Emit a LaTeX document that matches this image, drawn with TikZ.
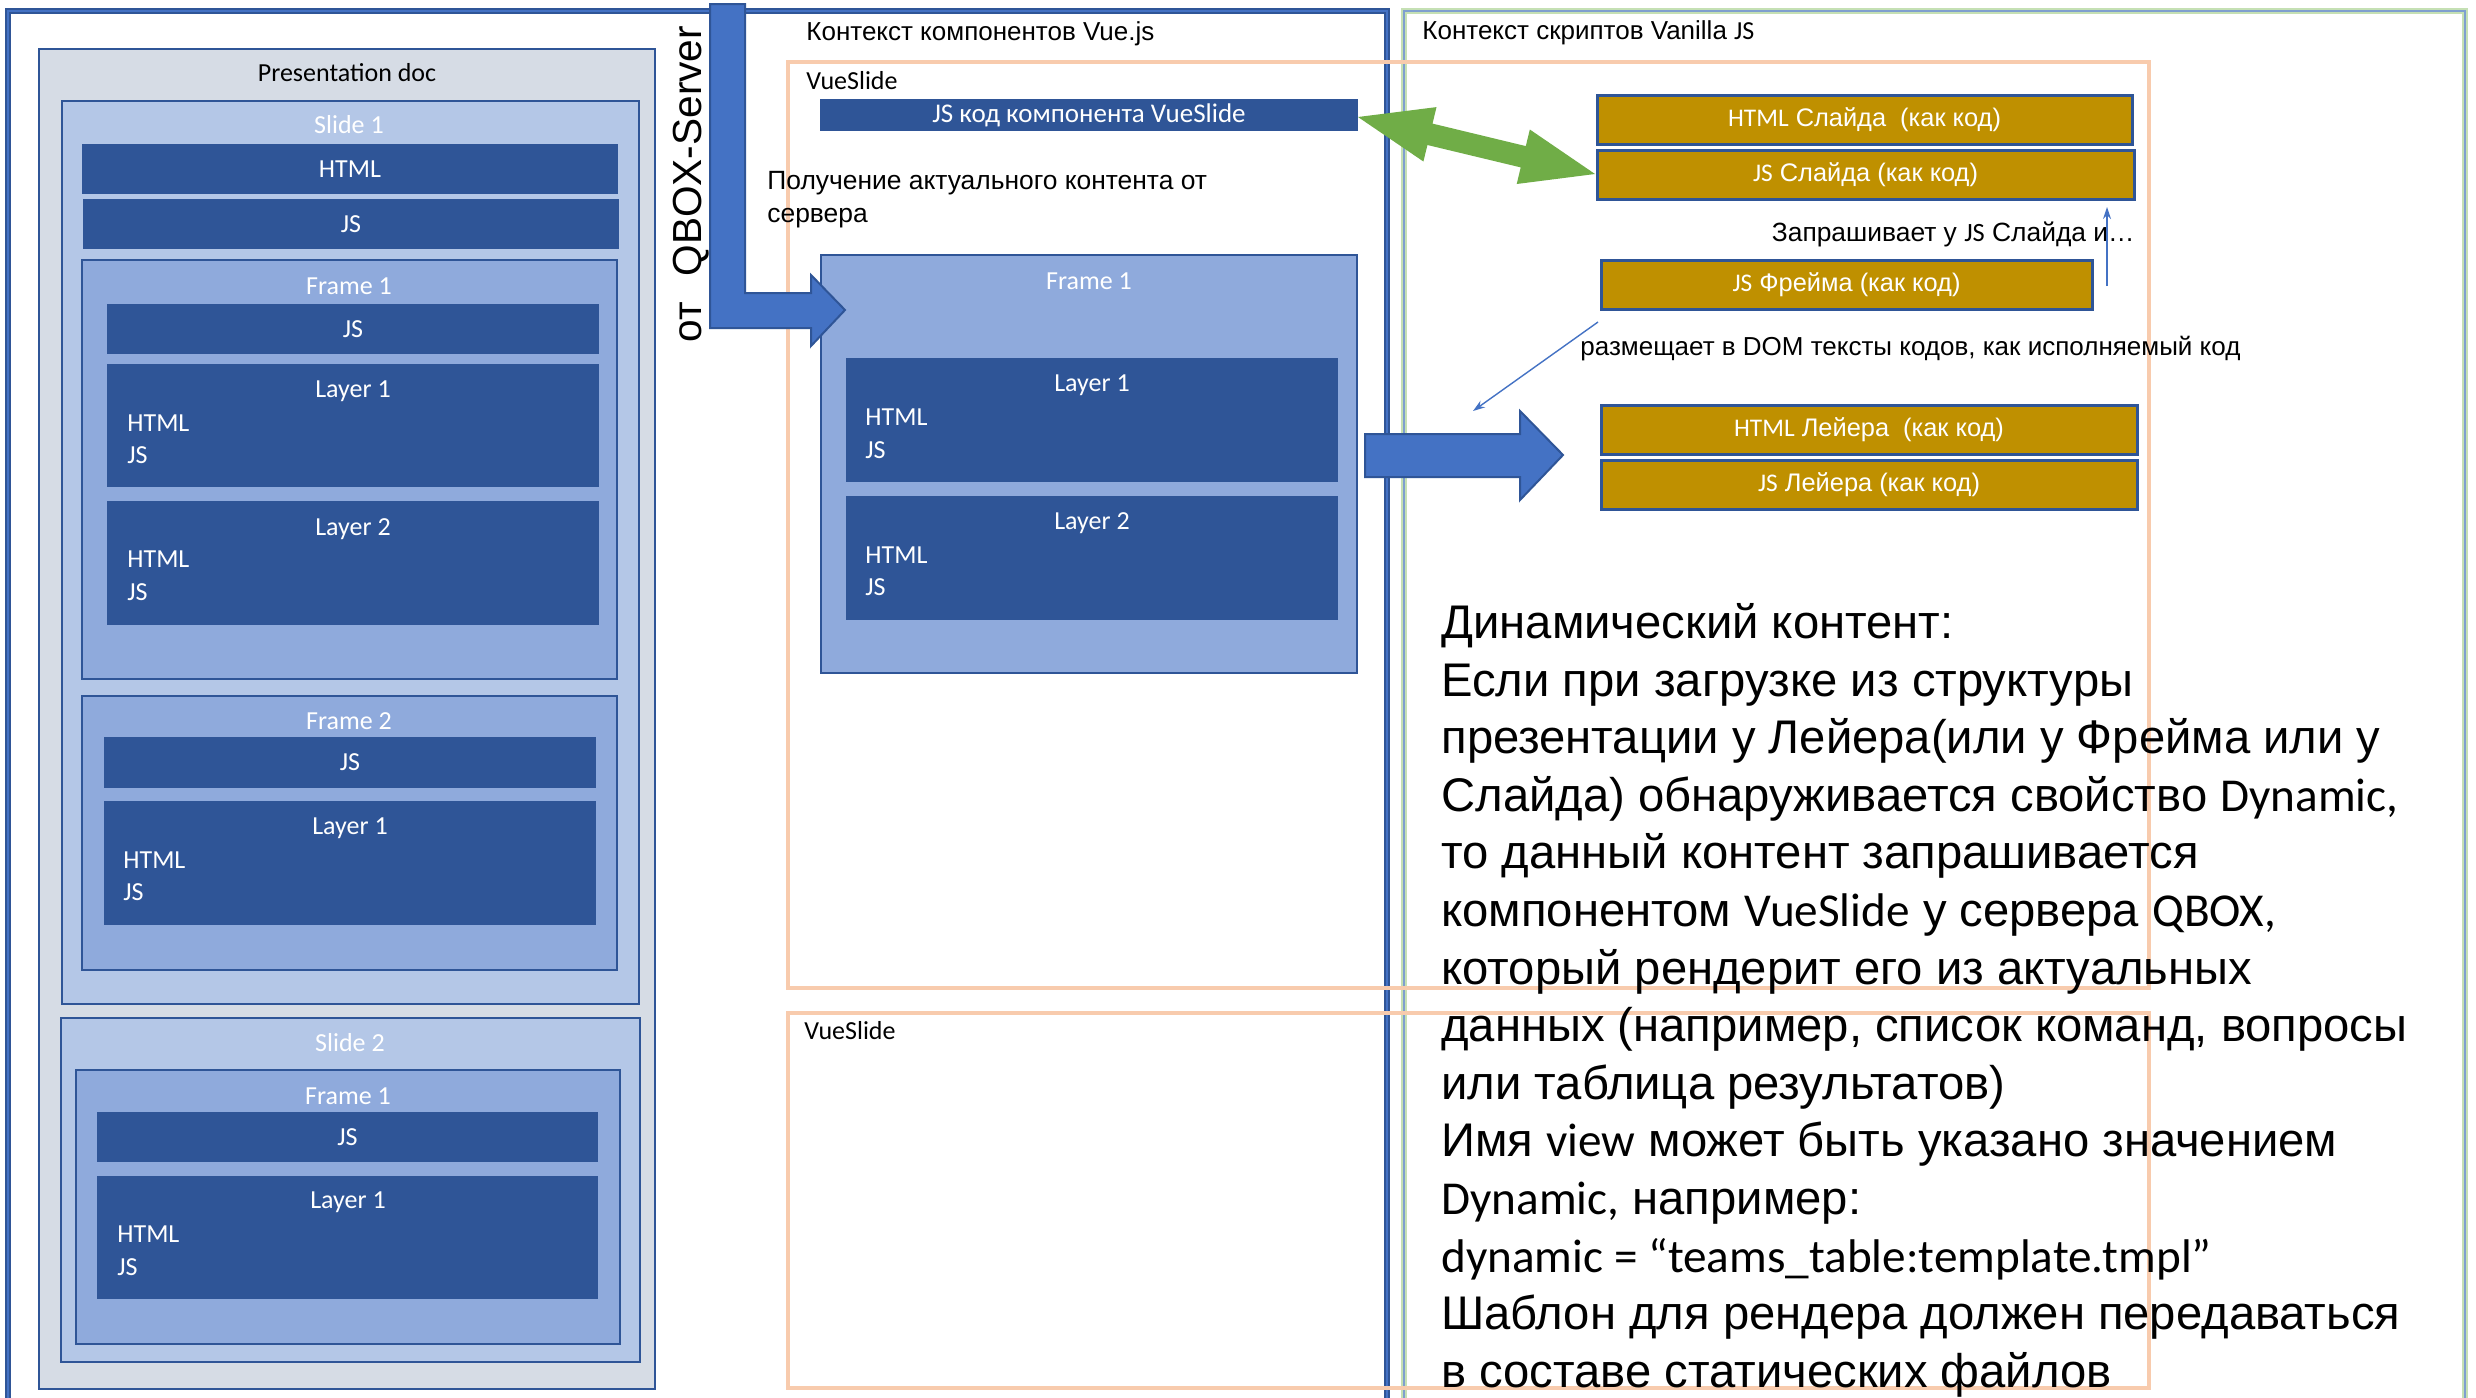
\documentclass[tikz,border=0pt]{standalone}
\usepackage{fontspec}
\setmainfont{Liberation Sans}
\newfontfamily\cb{Carlito}
\usetikzlibrary{arrows.meta}
\definecolor{dblue}{HTML}{2F5597}
\definecolor{mblue}{HTML}{4472C4}
\definecolor{docfill}{HTML}{D6DCE5}
\definecolor{slidefill}{HTML}{B4C7E7}
\definecolor{framefill}{HTML}{8FAADC}
\definecolor{goldc}{HTML}{BF9000}
\definecolor{peach}{HTML}{F8CBAD}
\definecolor{lgreen}{HTML}{C5E0B4}
\definecolor{greyblue}{HTML}{7F9FCF}
\definecolor{agreen}{HTML}{70AD47}
\newcommand\mkbox[7]{\node[#2,anchor=north west,minimum width={(#5-#3)*0.5pt},minimum height={(#6-#4)*0.5pt}] (#1) at (#3,#4) {#7};}
\begin{document}
\begin{tikzpicture}[x=0.5pt,y=-0.5pt,
  outerbox/.style={draw=dblue,line width=3.2pt,inner sep=0pt,outer sep=0pt,
    postaction={draw=mblue,line width=0.7pt}},
  greenbox/.style={draw=lgreen,line width=3pt,inner sep=0pt,outer sep=0pt,
    postaction={draw=greyblue,line width=0.6pt}},
  docbox/.style={draw=dblue,line width=1.2pt,fill=docfill,inner sep=0pt,outer sep=0pt},
  slidebox/.style={docbox,fill=slidefill},
  framebox/.style={docbox,fill=framefill},
  bar/.style={fill=dblue,draw=none,inner sep=0pt,outer sep=0pt,text=white,font=\cb\fontsize{13}{15}\selectfont},
  goldbox/.style={fill=goldc,draw=dblue,line width=1.5pt,inner sep=0pt,outer sep=0pt,text=white,font=\fontsize{12.7}{15}\selectfont},
  vslide/.style={draw=peach,line width=2pt,inner sep=0pt,outer sep=0pt},
  wl/.style={text=white,font=\cb\fontsize{13}{15}\selectfont,inner sep=0pt},
  bl/.style={text=black,font=\cb\fontsize{13}{15}\selectfont,inner sep=0pt},
  ru/.style={text=black,font=\fontsize{13}{16.5}\selectfont,inner sep=0pt},
  thinarrow/.style={draw=mblue,line width=0.7pt,-{Stealth[length=6pt,width=4pt]}},
  bigarrow/.style={fill=mblue,draw=dblue,line width=1pt},
  grarrow/.style={fill=agreen,draw=none}]
\useasboundingbox (0,0) rectangle (2476,1397);
\fill[white] (0,0) rectangle (2476,1397);

% contexts
\mkbox{vuectx}{outerbox}{8}{11}{1387}{1402}{}
\mkbox{vanctx}{greenbox}{1404}{11}{2465}{1402}{}

% presentation doc
\mkbox{doc}{docbox}{39}{49}{655}{1389}{}
\node[bl] (doct) at (347,73) {Presentation doc};
\mkbox{slide1}{slidebox}{62}{101}{639}{1004}{}
\node[wl] (slide1t) at (349,125) {Slide 1};
\mkbox{s1html}{bar}{82}{144}{618}{194}{HTML}
\mkbox{s1js}{bar}{83}{199}{619}{249}{JS}
\mkbox{s1f1}{framebox}{82}{260}{617}{679}{}
\node[wl] (s1f1t) at (349,286) {Frame 1};
\mkbox{s1f1js}{bar}{107}{304}{599}{354}{JS}
\mkbox{s1f1l1}{bar}{107}{364}{599}{487}{}
\node[wl] (s1f1l1t) at (353,391) {Layer 1};
\node[wl,anchor=west] (s1f1l1h) at (127,423) {HTML};
\node[wl,anchor=west] (s1f1l1j) at (127,455) {JS};
\mkbox{s1f1l2}{bar}{107}{501}{599}{625}{}
\node[wl] (s1f1l2t) at (353,529) {Layer 2};
\node[wl,anchor=west] (s1f1l2h) at (127,559) {HTML};
\node[wl,anchor=west] (s1f1l2j) at (127,592) {JS};
\mkbox{s1f2}{framebox}{82}{696}{617}{970}{}
\node[wl] (s1f2t) at (349,721) {Frame 2};
\mkbox{s1f2js}{bar}{104}{737}{596}{788}{JS}
\mkbox{s1f2l1}{bar}{104}{801}{596}{925}{}
\node[wl] (s1f2l1t) at (350,828) {Layer 1};
\node[wl,anchor=west] (s1f2l1h) at (123,860) {HTML};
\node[wl,anchor=west] (s1f2l1j) at (123,892) {JS};
\mkbox{slide2}{slidebox}{61}{1018}{640}{1362}{}
\node[wl] (slide2t) at (350,1043) {Slide 2};
\mkbox{s2f1}{framebox}{76}{1070}{620}{1344}{}
\node[wl] (s2f1t) at (348,1096) {Frame 1};
\mkbox{s2f1js}{bar}{97}{1112}{598}{1162}{JS}
\mkbox{s2f1l1}{bar}{97}{1176}{598}{1299}{}
\node[wl] (s2f1l1t) at (348,1202) {Layer 1};
\node[wl,anchor=west] (s2f1l1h) at (117,1234) {HTML};
\node[wl,anchor=west] (s2f1l1j) at (117,1267) {JS};

% Vue context
\node[ru,anchor=west] (vuet) at (806,34) {Контекст компонентов Vue.js};
\mkbox{vs1}{vslide}{788}{62}{2149}{988}{}
\node[bl,anchor=west] (vs1t) at (806,81) {VueSlide};
\mkbox{jsvue}{bar,font=\cb\fontsize{13.5}{15}\selectfont}{820}{99}{1358}{131}{JS код компонента VueSlide}
\node[ru,anchor=west,align=left,font=\fontsize{13.2}{16.5}\selectfont] (getc) at (767,200) {Получение актуального контента от\\сервера};
\mkbox{vframe}{framebox}{821}{255}{1357}{673}{}
\node[wl] (vframet) at (1089,281) {Frame 1};
\mkbox{vl1}{bar}{846}{358}{1338}{482}{}
\node[wl] (vl1t) at (1092,385) {Layer 1};
\node[wl,anchor=west] (vl1h) at (865,417) {HTML};
\node[wl,anchor=west] (vl1j) at (865,450) {JS};
\mkbox{vl2}{bar}{846}{496}{1338}{620}{}
\node[wl] (vl2t) at (1092,523) {Layer 2};
\node[wl,anchor=west] (vl2h) at (865,555) {HTML};
\node[wl,anchor=west] (vl2j) at (865,587) {JS};
\mkbox{vs2}{vslide}{788}{1013}{2149}{1388}{}
\node[bl,anchor=west] (vs2t) at (804,1031) {VueSlide};

% arrow from QBOX server
\draw[bigarrow] (710,4) -- (745,4) -- (745,293) -- (811,293) -- (811,275) -- (845,310) -- (811,346) -- (811,328) -- (710,328) -- cycle;
\node[rotate=90,inner sep=0pt,font=\fontsize{20.3}{24}\selectfont] (qbox) at (691,184) {от\hspace{0.35em} QBOX-Server};

% Vanilla context
\node[ru,anchor=west] (vant) at (1422,33) {Контекст скриптов Vanilla {\cb JS}};
\mkbox{g1}{goldbox}{1597}{95}{2132}{144}{{\cb HTML} Слайда\ \ (как код)}
\mkbox{g2}{goldbox}{1597}{150}{2134}{199}{{\cb JS} Слайда (как код)}
\mkbox{g3}{goldbox}{1601}{260}{2092}{309}{{\cb JS} Фрейма (как код)}
\mkbox{g4}{goldbox}{1601}{405}{2137}{454}{{\cb HTML} Лейера\ \ (как код)}
\mkbox{g5}{goldbox}{1601}{460}{2137}{509}{{\cb JS} Лейера (как код)}
\node[ru,anchor=east,font=\fontsize{13.2}{16.5}\selectfont] (askt) at (2135,234) {Запрашивает у {\cb JS} Слайда и…};
\coordinate (upstart) at (2107,286);
\coordinate (upend) at (2107,207);
\draw[thinarrow] (upstart) -- (upend);
\node[ru,anchor=west] (domt) at (1580,349) {размещает в DOM тексты кодов, как исполняемый код};
\coordinate (dstart) at (1598,322);
\coordinate (dend) at (1473,411);
\draw[thinarrow] (dstart) -- (dend);

% big blue arrow to the right
\draw[bigarrow] (1365,434) -- (1520,434) -- (1520,411) -- (1563,455) -- (1520,500) -- (1520,477) -- (1365,477) -- cycle;

% green double arrow
\fill[grarrow] (1358,117) -- (1436.5,107.1) -- (1432.5,123.6) -- (1525.8,146.1) -- (1529.8,129.5) -- (1595,174) -- (1516.7,184) -- (1520.7,167.4) -- (1427.4,145) -- (1423.4,161.5) -- cycle;

% dynamic content text
\node[anchor=north west,align=left,inner sep=0pt,font=\fontsize{23.6}{28.8}\selectfont] (dyn) at (1441,603) {Динамический контент:\\
Если при загрузке из структуры\\
презентации у Лейера(или у Фрейма или у\\
Слайда) обнаруживается свойство {\cb Dynamic,}\\
то данный контент запрашивается\\
компонентом {\cb VueSlide} у сервера {\cb QBOX,}\\
который рендерит его из актуальных\\
данных (например, список команд, вопросы\\
или таблица результатов)\\
Имя {\cb view} может быть указано значением\\
{\cb Dynamic,} например:\\
{\cb dynamic = “teams\_table:template.tmpl”}\\
Шаблон для рендера должен передаваться\\
в составе статических файлов};
\end{tikzpicture}
\end{document}
